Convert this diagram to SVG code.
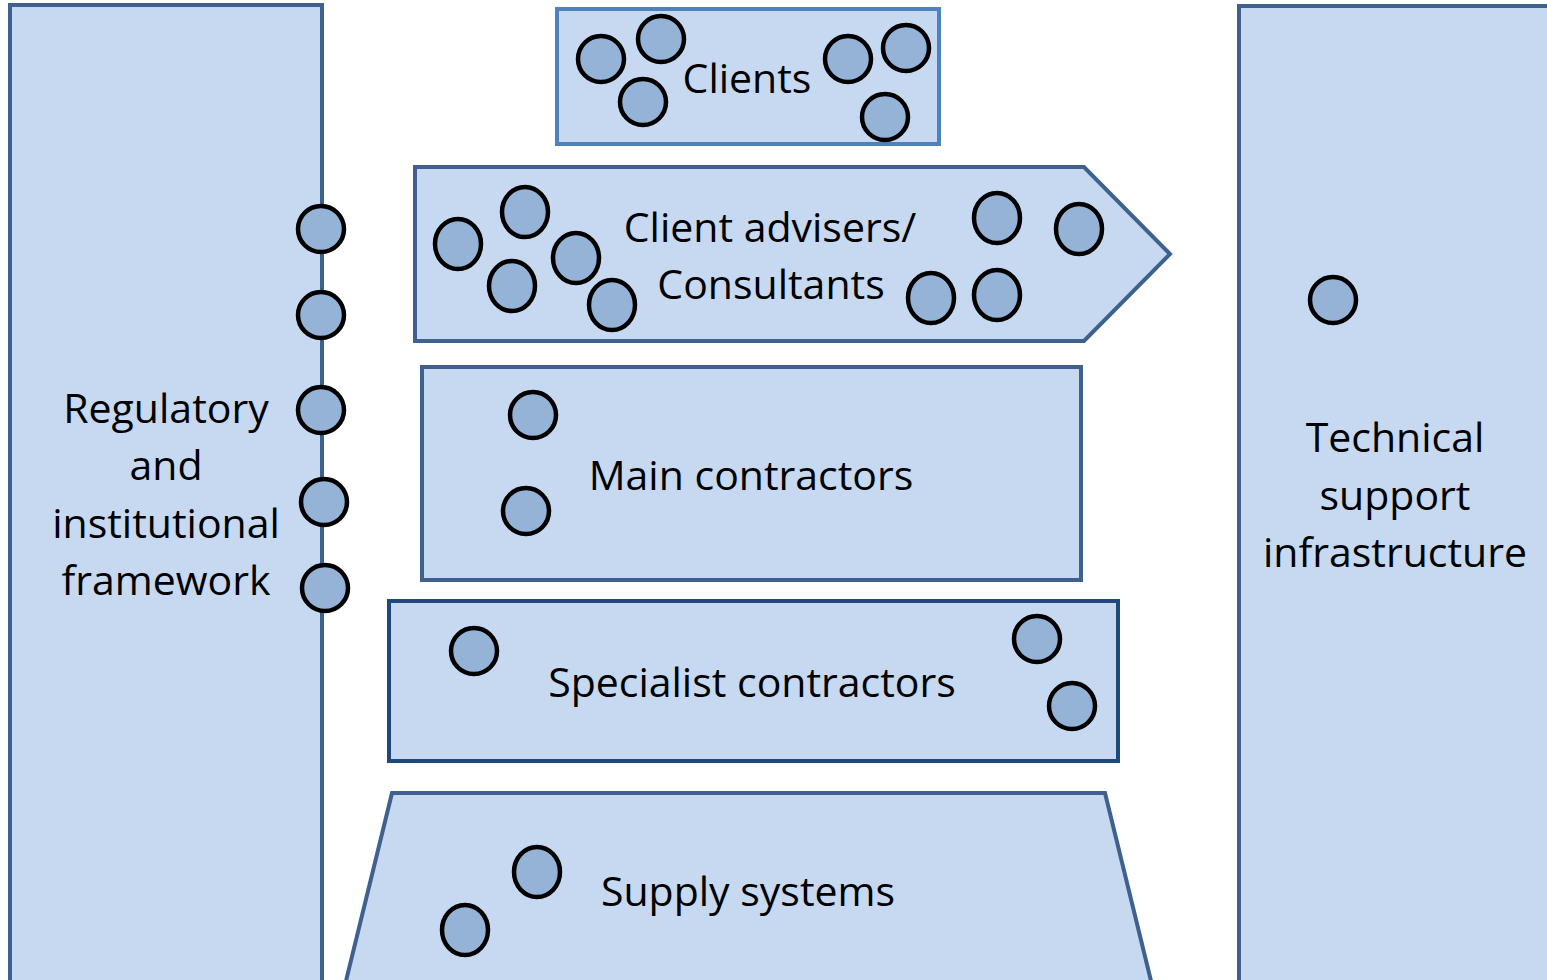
<svg xmlns="http://www.w3.org/2000/svg" width="1547" height="980" viewBox="0 0 1547 980">
<style>
.box{fill:#C6D9F0;stroke:#3F6190;stroke-width:4}
.dot{fill:#95B3D7;stroke:#000;stroke-width:4.5}
.lbl{font-family:"Open Sans","Noto Sans",sans-serif;font-size:41px;fill:#000;text-anchor:middle}
</style>
<rect width="1547" height="980" fill="#fff"/>
<g id="regulatory">
<rect class="box" x="10" y="5" width="312" height="990"/>
<text class="lbl"><tspan x="166" y="423">Regulatory</tspan><tspan x="166" y="480">and</tspan><tspan x="166" y="538">institutional</tspan><tspan x="166" y="595">framework</tspan></text>
<circle class="dot" cx="321" cy="229" r="23"/>
<circle class="dot" cx="321" cy="315" r="23"/>
<circle class="dot" cx="321" cy="410" r="23"/>
<circle class="dot" cx="324" cy="502" r="23"/>
<circle class="dot" cx="325" cy="588" r="23"/>
</g>
<g id="technical">
<rect class="box" x="1239" y="6" width="320" height="990"/>
<text class="lbl"><tspan x="1395" y="452">Technical</tspan><tspan x="1395" y="510">support</tspan><tspan x="1395" y="567">infrastructure</tspan></text>
<circle class="dot" cx="1333" cy="300" r="23"/>
</g>
<g id="clients">
<rect class="box" x="557" y="9" width="382" height="135" style="stroke:#4F81BD"/>
<text class="lbl" x="747" y="93">Clients</text>
<circle class="dot" cx="601" cy="59" r="23"/>
<circle class="dot" cx="661" cy="39" r="23"/>
<circle class="dot" cx="643" cy="102" r="23"/>
<circle class="dot" cx="848" cy="59" r="23"/>
<circle class="dot" cx="906" cy="48" r="23"/>
<circle class="dot" cx="885" cy="117" r="23"/>
</g>
<g id="advisers">
<path class="box" d="M415,167 L1084,167 L1170,254 L1084,341 L415,341 Z"/>
<text class="lbl"><tspan x="770" y="242">Client advisers/</tspan><tspan x="771" y="299">Consultants</tspan></text>
<ellipse class="dot" cx="458" cy="244" rx="23" ry="25"/>
<ellipse class="dot" cx="525" cy="212" rx="23" ry="25"/>
<ellipse class="dot" cx="512" cy="286" rx="23" ry="25"/>
<ellipse class="dot" cx="576" cy="258" rx="23" ry="25"/>
<ellipse class="dot" cx="612" cy="305" rx="23" ry="25"/>
<ellipse class="dot" cx="997" cy="218" rx="23" ry="25"/>
<ellipse class="dot" cx="1079" cy="229" rx="23" ry="25"/>
<ellipse class="dot" cx="931" cy="298" rx="23" ry="25"/>
<ellipse class="dot" cx="997" cy="295" rx="23" ry="25"/>
</g>
<g id="main">
<rect class="box" x="422" y="367" width="659" height="213"/>
<text class="lbl" x="751" y="490">Main contractors</text>
<circle class="dot" cx="533" cy="415" r="23"/>
<circle class="dot" cx="526" cy="511" r="23"/>
</g>
<g id="specialist">
<rect class="box" x="389" y="601" width="729" height="160" style="stroke:#1F497D"/>
<text class="lbl" x="752" y="697">Specialist contractors</text>
<circle class="dot" cx="474" cy="651" r="23"/>
<circle class="dot" cx="1037" cy="639" r="23"/>
<circle class="dot" cx="1072" cy="706" r="23"/>
</g>
<g id="supply">
<path class="box" d="M392,793 L1105,793 L1152,985 L345,985 Z"/>
<text class="lbl" x="748" y="906">Supply systems</text>
<ellipse class="dot" cx="537" cy="872" rx="23" ry="25"/>
<ellipse class="dot" cx="465" cy="930" rx="23" ry="25"/>
</g>
<g id="connectors"></g>
</svg>
